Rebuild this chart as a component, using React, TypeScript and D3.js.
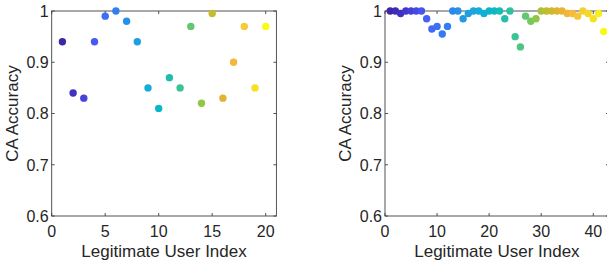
import React from "react";
import * as d3 from "d3";

// ---- data ----
const leftAccuracy = [0.94, 0.84, 0.83, 0.94, 0.99, 1.0, 0.98, 0.94, 0.85, 0.81, 0.87, 0.85, 0.97, 0.82, 0.995, 0.83, 0.9, 0.97, 0.85, 0.97];
const rightAccuracy = [
  1, 1, 0.995, 1, 1, 1, 1, 0.985, 0.965, 0.97, 0.955, 0.97, 1, 1, 0.985, 0.995, 1, 1, 0.995, 1, 1,
  1, 0.985, 1, 0.95, 0.93, 0.99, 0.98, 0.985, 1, 1, 1, 1, 1, 0.995, 0.995, 0.99, 1, 0.995, 0.985, 0.995, 0.96,
];
const leftXTicks = [0, 5, 10, 15, 20];
const rightXTicks = [0, 10, 20, 30, 40];
const yTicks = [0.6, 0.7, 0.8, 0.9, 1];
const xLabel = "Legitimate User Index";
const yLabel = "CA Accuracy";

// parula-like colormap stops
const parulaStops = [
  "#3e26a8", "#4030c4", "#4640dc", "#4a5cf0", "#3e6ef8", "#2e80f4", "#2890e6", "#1ea0e0", "#18acdc", "#00b8c8",
  "#20bcb0", "#36c49a", "#5ec870", "#90c848", "#c8bc28", "#e2b030", "#f8b440", "#f8cc38", "#f0e020", "#f9fb15",
];
const parula = d3.interpolateRgbBasis(parulaStops);

const W = 607;
const H = 266;
const TOP = 11;
const BOTTOM = 216;
const TEXT = "#262626";
const AXIS = "#404040";
const FONT = "'Liberation Sans', Arial, Helvetica, sans-serif";

type PanelProps = {
  values: number[];
  x0: number;
  x1: number;
  xMax: number;
  xTicks: number[];
};

function Panel({ values, x0, x1, xMax, xTicks }: PanelProps) {
  const x = d3.scaleLinear().domain([0, xMax]).range([x0, x1]);
  const y = d3.scaleLinear().domain([0.6, 1]).range([BOTTOM, TOP]);
  const n = values.length;
  const tl = 3;
  const fmtY = (v: number) => (v === 1 ? "1" : d3.format(".1f")(v));
  return (
    <g>
      {/* frame */}
      <rect x={x0} y={TOP} width={x1 - x0} height={BOTTOM - TOP} fill="white" stroke={AXIS} strokeWidth={0.9} />
      {xTicks.map((t) => (
        <g key={"xt" + t}>
          <line x1={x(t)} x2={x(t)} y1={BOTTOM} y2={BOTTOM - tl} stroke={AXIS} strokeWidth={0.9} />
          <line x1={x(t)} x2={x(t)} y1={TOP} y2={TOP + tl} stroke={AXIS} strokeWidth={0.9} />
          <text x={x(t)} y={236.5} textAnchor="middle" fontSize={16} fill={TEXT} fontFamily={FONT}>
            {t}
          </text>
        </g>
      ))}
      {yTicks.map((t) => (
        <g key={"yt" + t}>
          <line x1={x0} x2={x0 + tl} y1={y(t)} y2={y(t)} stroke={AXIS} strokeWidth={0.9} />
          <line x1={x1} x2={x1 - tl} y1={y(t)} y2={y(t)} stroke={AXIS} strokeWidth={0.9} />
          <text x={x0 - 3} y={y(t)} dy="0.36em" textAnchor="end" fontSize={16} fill={TEXT} fontFamily={FONT}>
            {fmtY(t)}
          </text>
        </g>
      ))}
      {values.map((v, i) => (
        <circle
          key={i}
          cx={x(i + 1)}
          cy={y(v)}
          r={3.7}
          fill={parula(n > 1 ? i / (n - 1) : 0)}
        />
      ))}
      <text x={(x0 + Math.min(x1, W)) / 2 + (x1 > W ? 0 : 0)} y={256.5} textAnchor="middle" fontSize={17} fill={TEXT} fontFamily={FONT}>
        {""}
      </text>
      <text
        transform={`translate(${x0 - 34},${(TOP + BOTTOM) / 2}) rotate(-90)`}
        textAnchor="middle"
        fontSize={17}
        fill={TEXT}
        fontFamily={FONT}
      >
        {yLabel}
      </text>
      <text x={(x0 + x1) / 2} y={256.5} textAnchor="middle" fontSize={17} fill={TEXT} fontFamily={FONT}>
        {xLabel}
      </text>
    </g>
  );
}

export default function App() {
  return (
    <svg
      width={W}
      height={H}
      viewBox={`0 0 ${W} ${H}`}
      style={{ position: "absolute", left: 0, top: 0, background: "white" }}
    >
      <rect x={0} y={0} width={W} height={H} fill="white" />
      <Panel values={leftAccuracy} x0={51.7} x1={276.4} xMax={21} xTicks={leftXTicks} />
      <Panel values={rightAccuracy} x0={385} x1={608.9} xMax={43} xTicks={rightXTicks} />
    </svg>
  );
}
